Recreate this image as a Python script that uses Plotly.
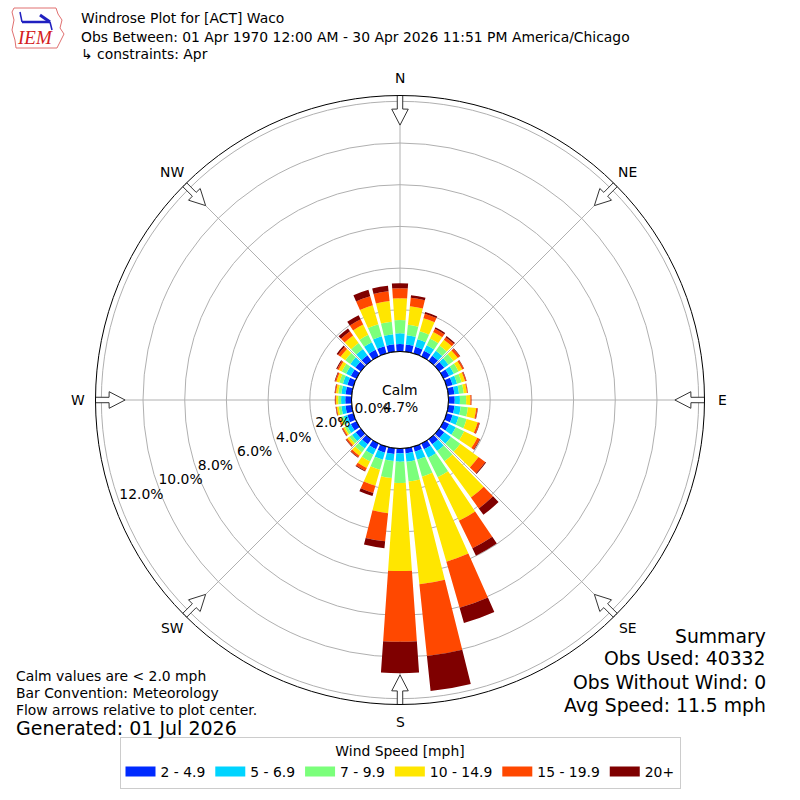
import math
import plotly.graph_objects as go

# ---------------- data ----------------
directions = list(range(0, 360, 10))
speed_bins = ["2 - 4.9", "5 - 6.9", "7 - 9.9", "10 - 14.9", "15 - 19.9", "20+"]
bin_colors = ["#002aff", "#00d4ff", "#7bff7b", "#ffe600", "#ff4800", "#7f0000"]

# percent of observations per direction, per speed bin
pct_2_5 = [0.36, 0.35, 0.33, 0.30, 0.30, 0.30, 0.30, 0.30, 0.30, 0.30, 0.30, 0.30,
           0.30, 0.30, 0.30, 0.30, 0.25, 0.25, 0.23, 0.28, 0.30, 0.30, 0.30, 0.30,
           0.30, 0.30, 0.30, 0.30, 0.30, 0.30, 0.30, 0.32, 0.33, 0.35, 0.36, 0.36]
pct_5_7 = [0.51, 0.45, 0.37, 0.30, 0.30, 0.25, 0.25, 0.22, 0.22, 0.25, 0.30, 0.30,
           0.35, 0.40, 0.40, 0.45, 0.40, 0.40, 0.40, 0.34, 0.35, 0.30, 0.25, 0.22,
           0.20, 0.18, 0.20, 0.20, 0.20, 0.22, 0.25, 0.30, 0.37, 0.40, 0.49, 0.49]
pct_7_10 = [0.64, 0.50, 0.40, 0.35, 0.30, 0.30, 0.25, 0.23, 0.23, 0.30, 0.35, 0.40,
            0.45, 0.55, 0.60, 1.05, 0.85, 0.95, 1.02, 0.82, 0.50, 0.35, 0.23, 0.16,
            0.12, 0.12, 0.13, 0.14, 0.15, 0.18, 0.23, 0.30, 0.35, 0.40, 0.60, 0.60]
pct_10_15 = [1.04, 0.90, 0.65, 0.35, 0.35, 0.25, 0.20, 0.17, 0.15, 0.20, 0.40, 0.55,
             0.70, 1.08, 2.16, 2.32, 4.24, 4.96, 4.23, 1.69, 0.80, 0.35, 0.20, 0.12,
             0.08, 0.08, 0.09, 0.10, 0.11, 0.15, 0.17, 0.28, 0.45, 0.55, 0.95, 1.00]
pct_15_20 = [0.48, 0.40, 0.23, 0.18, 0.15, 0.12, 0.08, 0.06, 0.04, 0.05, 0.06, 0.09,
             0.13, 0.40, 0.64, 1.47, 2.30, 3.46, 3.39, 1.36, 0.36, 0.15, 0.09, 0.07,
             0.06, 0.05, 0.04, 0.04, 0.05, 0.06, 0.08, 0.15, 0.25, 0.28, 0.45, 0.47]
pct_20_up = [0.24, 0.13, 0.08, 0.07, 0.07, 0.03, 0.02, 0.02, 0.01, 0.01, 0.02, 0.02,
             0.03, 0.05, 0.38, 0.39, 0.76, 1.69, 1.51, 0.33, 0.15, 0.04, 0.03, 0.03,
             0.02, 0.02, 0.02, 0.02, 0.02, 0.03, 0.05, 0.08, 0.17, 0.22, 0.32, 0.27]
series = [pct_2_5, pct_5_7, pct_7_10, pct_10_15, pct_15_20, pct_20_up]

calm_pct = 4.7
radial_ticks = [0, 2, 4, 6, 8, 10, 12]
compass_angles = [0, 45, 90, 135, 180, 225, 270, 315]
compass_labels = ["N", "NE", "E", "SE", "S", "SW", "W", "NW"]

title_lines = ["Windrose Plot for [ACT] Waco",
               "Obs Between: 01 Apr 1970 12:00 AM - 30 Apr 2026 11:51 PM America/Chicago",
               "\u21b3 constraints: Apr"]
notes = ["Calm values are < 2.0 mph", "Bar Convention: Meteorology",
         "Flow arrows relative to plot center."]
generated = "Generated: 01 Jul 2026"
summary = ["Summary", "Obs Used: 40332", "Obs Without Wind: 0", "Avg Speed: 11.5 mph"]

# ---------------- figure ----------------
FONT = "DejaVu Sans"
W = H = 800
R_MAX = 12.28
fig = go.Figure()

for vals, name, col in zip(series, speed_bins, bin_colors):
    fig.add_trace(go.Barpolar(r=vals, theta=directions, width=8, name=name,
                              marker=dict(color=col, line=dict(width=0)),
                              showlegend=False, hoverinfo="skip"))

# legend proxies (wide swatches)
for name, col in zip(speed_bins, bin_colors):
    fig.add_trace(go.Scatterpolar(r=[None], theta=[None], mode="lines", name=name,
                                  line=dict(color=col, width=10), showlegend=True))

# hole edge circle
fig.add_trace(go.Scatterpolar(r=[0] * 361, theta=list(range(361)), mode="lines",
                              line=dict(color="black", width=1), showlegend=False,
                              hoverinfo="skip", cliponaxis=False))

# flow arrows pointing toward the centre
for a in compass_angles:
    rr = [12.28, 11.63, 11.63, 10.86, 11.63, 11.63, 12.28, 12.28]
    tt = [a - 0.52, a - 0.53, a - 1.63, a, a + 1.63, a + 0.53, a + 0.52, a - 0.52]
    fig.add_trace(go.Scatterpolar(r=rr, theta=tt, mode="lines", fill="toself",
                                  fillcolor="white", line=dict(color="#333333", width=1),
                                  showlegend=False, hoverinfo="skip", cliponaxis=False))

# radial tick labels
fig.add_trace(go.Scatterpolar(r=radial_ticks, theta=[250] * len(radial_ticks), mode="text",
                              text=[f"{v:.1f}%" for v in radial_ticks],
                              textposition="top right",
                              textfont=dict(family=FONT, size=13.9, color="black"),
                              showlegend=False, hoverinfo="skip", cliponaxis=False))

half = 304.5 / W
fig.update_layout(
    width=W, height=H,
    margin=dict(l=0, r=0, t=0, b=0),
    paper_bgcolor="white",
    font=dict(family=FONT, size=13.9, color="black"),
    polar=dict(
        domain=dict(x=[0.5 - half, 0.5 + half], y=[0.5 - half, 0.5 + half]),
        hole=48.5 / 304.5,
        bgcolor="white",
        barmode="stack",
        radialaxis=dict(range=[0, R_MAX], tickvals=radial_ticks[1:], showticklabels=False,
                        ticks="", showline=False, gridcolor="#b0b0b0", gridwidth=1,
                        layer="above traces"),
        angularaxis=dict(direction="clockwise", rotation=90, tickmode="array",
                         tickvals=compass_angles, ticktext=compass_labels, ticks="",
                         showticklabels=False,
                         showline=True, linecolor="black", linewidth=1,
                         gridcolor="#b0b0b0", gridwidth=1, layer="above traces"),
    ),
    legend=dict(orientation="h", x=0.5, xanchor="center", y=0.014, yanchor="bottom",
                bordercolor="#cccccc", borderwidth=1, bgcolor="white",
                title=dict(text="Wind Speed [mph]", side="top center",
                           font=dict(family=FONT, size=13.9)),
                font=dict(family=FONT, size=13.9)),
)

def px2paper(x, y):
    return x / W, 1 - y / H

ann = []
for txt, yy in zip(title_lines, [18, 37, 54]):
    x, y = px2paper(79, yy)
    ann.append(dict(text=txt, x=x, y=y, xanchor="left", yanchor="middle", font=dict(size=13.9)))
for txt, yy in zip(notes, [676, 693, 710]):
    x, y = px2paper(14, yy)
    ann.append(dict(text=txt, x=x, y=y, xanchor="left", yanchor="middle", font=dict(size=13.9)))
x, y = px2paper(14, 728)
ann.append(dict(text=generated, x=x, y=y, xanchor="left", yanchor="middle", font=dict(size=19)))
for txt, yy in zip(summary, [636, 658, 682, 705]):
    x, y = px2paper(768, yy)
    ann.append(dict(text=txt, x=x, y=y, xanchor="right", yanchor="middle", font=dict(size=18.8)))
x, y = px2paper(400, 390)
ann.append(dict(text="Calm", x=x, y=y, xanchor="center", yanchor="middle", font=dict(size=13.9)))
x, y = px2paper(400, 407)
ann.append(dict(text=f"{calm_pct:.1f}%", x=x, y=y, xanchor="center", yanchor="middle",
                font=dict(size=13.9)))
# compass labels just outside the frame (polar centre at 400,400; 322 px out)
for ang, lab in zip(compass_angles, compass_labels):
    rad = math.radians(ang)
    x, y = px2paper(400 + 322 * math.sin(rad), 400 - 322 * math.cos(rad))
    ann.append(dict(text=lab, x=x, y=y, xanchor="center", yanchor="middle",
                    font=dict(size=13.9)))
# IEM logo text
x, y = px2paper(35, 38)
ann.append(dict(text="<i>IEM</i>", x=x, y=y, xanchor="center", yanchor="middle",
                font=dict(family="Liberation Serif", size=19, color="#d42020")))
for a in ann:
    a.update(xref="paper", yref="paper", showarrow=False)
fig.update_layout(annotations=ann)

# simple logo outline and barb
def P(x, y):
    return f"{x / W:.4f},{1 - y / H:.4f}"
outline = [(14, 8), (56, 8), (58, 14), (62, 20), (60, 28), (64, 34), (60, 42),
           (57, 48), (16, 48), (15, 40), (12, 30), (14, 20), (12, 12)]
path = "M " + " L ".join(P(*p) for p in outline) + " Z"
shapes = [dict(type="path", path=path, xref="paper", yref="paper",
               line=dict(color="#e07070", width=1))]
for (x0, y0, x1, y1, wdt) in [(22, 22, 50, 22, 2.5), (40, 15, 50, 22, 3), (20, 12, 22, 22, 1.5),
                              (50, 22, 52, 30, 1.5)]:
    shapes.append(dict(type="line", x0=x0 / W, y0=1 - y0 / H, x1=x1 / W, y1=1 - y1 / H,
                       xref="paper", yref="paper", line=dict(color="#2020c0", width=wdt)))
fig.update_layout(shapes=shapes)

fig.write_html("out.html", config={"displayModeBar": False},
               post_script="document.body.style.margin='0';document.body.style.overflow='hidden';")
